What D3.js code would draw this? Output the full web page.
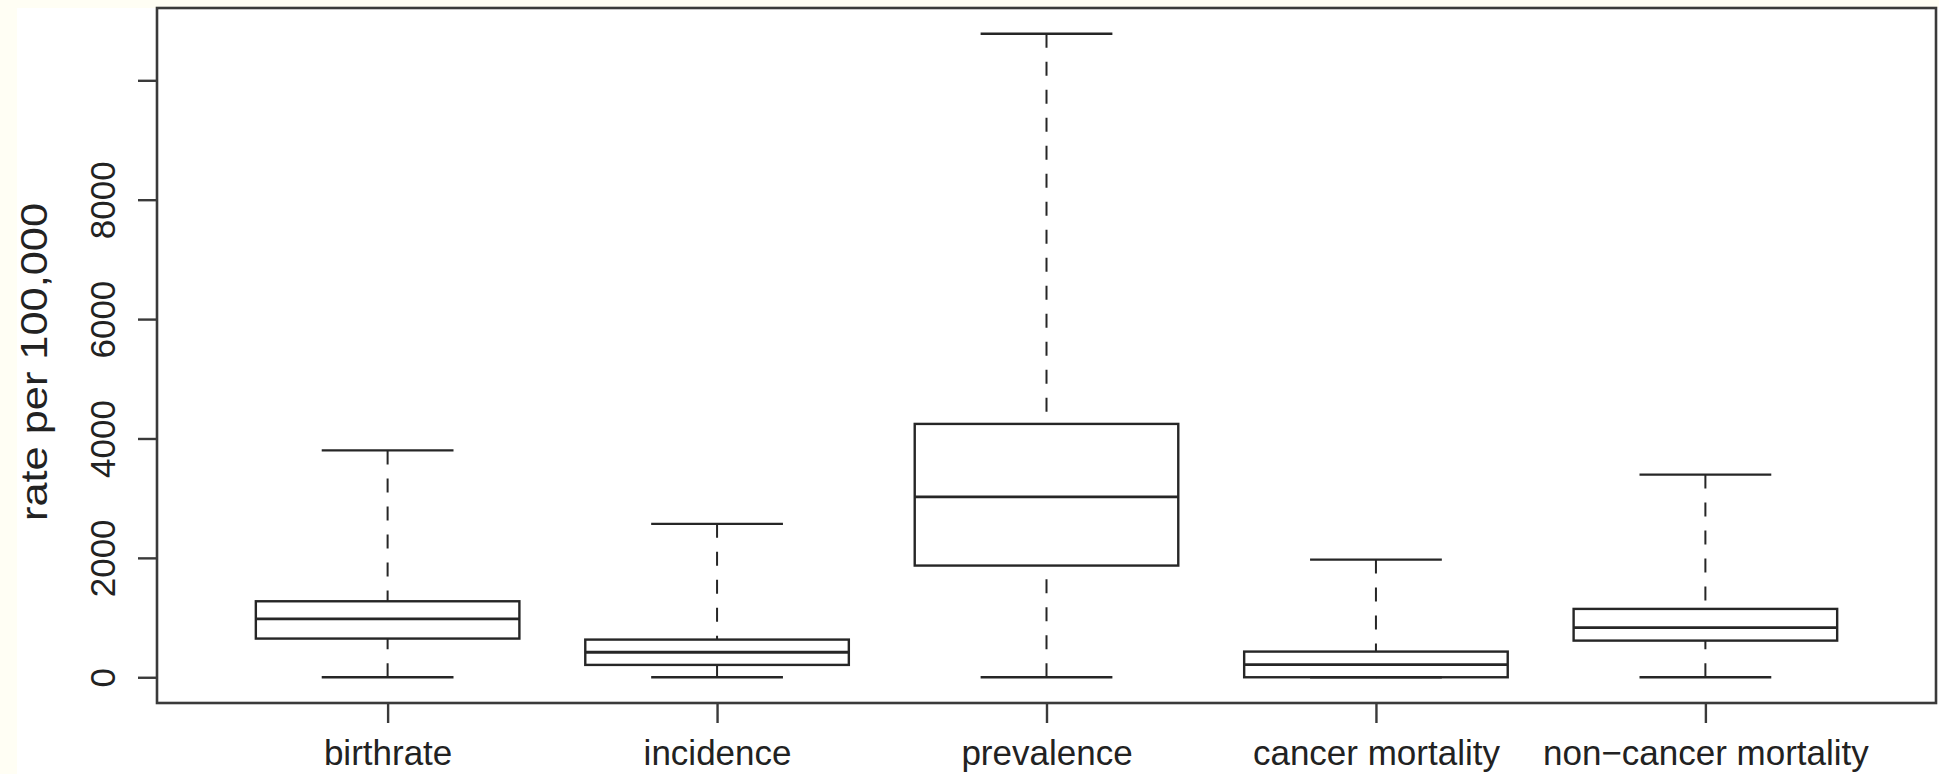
<!DOCTYPE html>
<html>
<head>
<meta charset="utf-8">
<script src="https://cdn.jsdelivr.net/npm/d3@7"></script>
<style>
  html, body { margin: 0; padding: 0; background: #fffef4; }
  svg { display: block; }
  text { font-family: "Liberation Sans", Arial, Helvetica, sans-serif; fill: #222; }
</style>
</head>
<body>
<svg id="chart" width="1939" height="774"></svg>
<script>
// ---- data ----
const categories = ["birthrate", "incidence", "prevalence", "cancer mortality", "non\u2212cancer mortality"];
const whiskerLow  = [0, 0, 0, 0, 0];
const q1          = [648, 207, 1871, 0, 614];
const medians     = [978, 419, 3022, 212, 832];
const q3          = [1273, 631, 4244, 430, 1145];
const whiskerHigh = [3800, 2570, 10780, 1971, 3395];
const yTickValues = [0, 2000, 4000, 6000, 8000, 10000];
const yTickLabels = ["0", "2000", "4000", "6000", "8000", ""];
const yTitle = "rate per 100,000";

const boxes = categories.map((c, i) => ({
  name: c, i: i + 1,
  lo: whiskerLow[i], q1: q1[i], med: medians[i], q3: q3[i], hi: whiskerHigh[i]
}));

const svg = d3.select("#chart");
const W = 1939, H = 774;
const plot = { left: 157, right: 1936, top: 8, bottom: 703 };

// white drawing area (cream strip at far left and top)
svg.append("rect").attr("x", 17).attr("y", 8).attr("width", W - 17).attr("height", H - 8).attr("fill", "#ffffff");

const n = categories.length;
const x = d3.scaleLinear().domain([0.5 - 0.04 * n, n + 0.5 + 0.04 * n]).range([plot.left, plot.right]);
const yMax = d3.max(whiskerHigh), yMin = d3.min(whiskerLow);
const pad = (yMax - yMin) * 0.04;
const y = d3.scaleLinear().domain([yMin - pad, yMax + pad]).range([plot.bottom, plot.top]);

const unit = x(2) - x(1);
const boxW = 0.8 * unit;
const capW = 0.4 * unit;
const lineCol = "#262626";

const g = svg.append("g");
const bx = g.selectAll("g.box").data(boxes).join("g").attr("class", "box");

// whiskers (dashed), drawn from extreme toward box
bx.append("line")
  .attr("x1", d => x(d.i)).attr("x2", d => x(d.i))
  .attr("y1", d => y(d.hi)).attr("y2", d => y(d.q3))
  .attr("stroke", lineCol).attr("stroke-width", 2).attr("stroke-dasharray", "14,14");
bx.append("line")
  .attr("x1", d => x(d.i)).attr("x2", d => x(d.i))
  .attr("y1", d => y(d.lo)).attr("y2", d => y(d.q1))
  .attr("stroke", lineCol).attr("stroke-width", 2).attr("stroke-dasharray", "14,14");
// staples
bx.append("line")
  .attr("x1", d => x(d.i) - capW / 2).attr("x2", d => x(d.i) + capW / 2)
  .attr("y1", d => y(d.hi)).attr("y2", d => y(d.hi))
  .attr("stroke", lineCol).attr("stroke-width", 2.4);
bx.append("line")
  .attr("x1", d => x(d.i) - capW / 2).attr("x2", d => x(d.i) + capW / 2)
  .attr("y1", d => y(d.lo)).attr("y2", d => y(d.lo))
  .attr("stroke", lineCol).attr("stroke-width", 2.4);
// boxes
bx.append("rect")
  .attr("x", d => x(d.i) - boxW / 2).attr("width", boxW)
  .attr("y", d => y(d.q3)).attr("height", d => y(d.q1) - y(d.q3))
  .attr("fill", "none").attr("stroke", lineCol).attr("stroke-width", 2.4);
// medians
bx.append("line")
  .attr("x1", d => x(d.i) - boxW / 2).attr("x2", d => x(d.i) + boxW / 2)
  .attr("y1", d => y(d.med)).attr("y2", d => y(d.med))
  .attr("stroke", lineCol).attr("stroke-width", 2.8);

// frame
svg.append("rect")
  .attr("x", plot.left).attr("y", plot.top)
  .attr("width", plot.right - plot.left).attr("height", plot.bottom - plot.top)
  .attr("fill", "none").attr("stroke", "#3a3a3a").attr("stroke-width", 2.6);

// y axis
const yAxis = d3.axisLeft(y).tickValues(yTickValues)
  .tickFormat((d, i) => yTickLabels[i]).tickSize(19).tickPadding(0);
const ya = svg.append("g").attr("transform", `translate(${plot.left},0)`).call(yAxis);
ya.select(".domain").remove();
ya.selectAll(".tick line").attr("stroke", "#3a3a3a").attr("stroke-width", 2.4);
ya.selectAll(".tick text")
  .attr("x", 0).attr("y", 0)
  .attr("transform", "translate(-42,0) rotate(-90)")
  .attr("text-anchor", "middle").attr("dy", 0)
  .style("font-size", "35px").style("fill", "#222")
  .style("font-family", "'Liberation Sans', Arial, sans-serif");

// x axis
const xAxis = d3.axisBottom(x).tickValues(boxes.map(d => d.i))
  .tickFormat((d, i) => categories[i]).tickSize(20).tickPadding(0);
const xa = svg.append("g").attr("transform", `translate(0,${plot.bottom})`).call(xAxis);
xa.select(".domain").remove();
xa.selectAll(".tick line").attr("stroke", "#3a3a3a").attr("stroke-width", 2.4);
xa.selectAll(".tick text")
  .attr("y", 62).attr("dy", 0)
  .style("font-size", "35px").style("fill", "#222")
  .style("font-family", "'Liberation Sans', Arial, sans-serif");

// y title
svg.append("text")
  .attr("transform", `translate(47,362) rotate(-90)`)
  .attr("text-anchor", "middle")
  .attr("textLength", 318)
  .attr("lengthAdjust", "spacingAndGlyphs")
  .style("font-size", "37px")
  .text(yTitle);
</script>
</body>
</html>
